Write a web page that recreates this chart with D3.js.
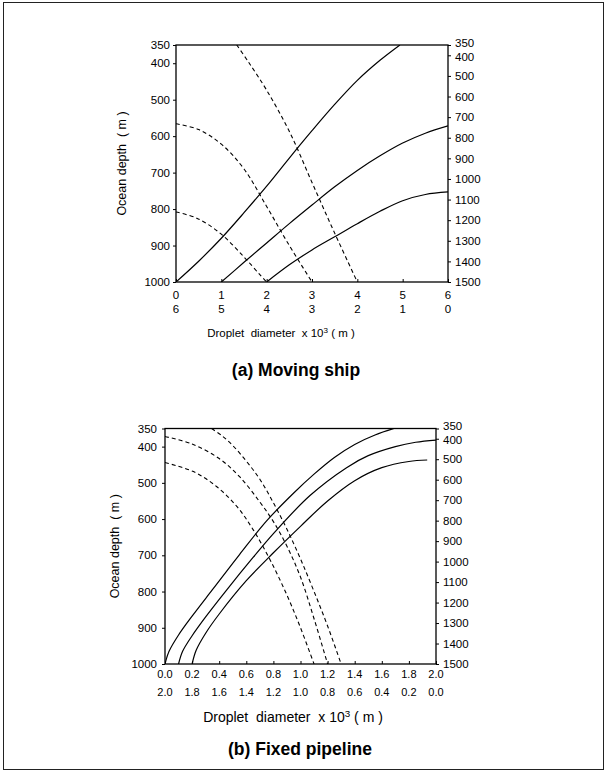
<!DOCTYPE html>
<html><head><meta charset="utf-8">
<script src="https://cdn.jsdelivr.net/npm/d3@7"></script>
<style>
html,body{margin:0;padding:0;background:#fff;}
svg{display:block;}
text{font-family:"Liberation Sans",Arial,sans-serif;fill:#000;}
</style></head>
<body>
<svg id="c" width="608" height="773"></svg>
<script>
// ---------- DATA ----------
// (a) Moving ship: x = droplet diameter (primary axis 0..6), y = ocean depth (left axis)
const shipXTicks = [0,1,2,3,4,5,6];
const shipXTicks2 = [6,5,4,3,2,1,0];
const depthTicksLeft = [350,400,500,600,700,800,900,1000];
const depthTicksRight = [350,400,500,600,700,800,900,1000,1100,1200,1300,1400,1500];

const shipSolid1 = [[0,1000],[0.5,943],[1.0,880],[1.5,810],[2.0,737],[2.5,660],[3.0,585],[3.5,513],[4.0,447],[4.5,392],[4.94,350]];
const shipSolid2 = [[1,1000],[1.5,946],[2,893],[2.5,840],[3,789],[3.5,739],[4,694],[4.5,654],[5,619],[5.5,592],[6,572]];
const shipSolid3 = [[2,1000],[2.5,953],[3,912],[3.5,876],[4,840],[4.5,806],[5,777],[5.5,760],[6,753]];
const shipDash1 = [[0,808],[0.46,825],[0.97,866],[1.49,930],[1.85,980],[2,1000]];
const shipDash2 = [[0,566],[0.5,582],[1.0,622],[1.5,690],[2.0,793],[2.5,900],[3,1000]];
const shipDash3 = [[1.34,350],[1.6,397],[2.0,474],[2.5,587],[3.0,727],[3.5,866],[4,1000]];

// (b) Fixed pipeline: x = droplet diameter (primary 0.0..2.0)
const pipeXTicks = [0,0.2,0.4,0.6,0.8,1.0,1.2,1.4,1.6,1.8,2.0];
const pipeXTicks2 = [2.0,1.8,1.6,1.4,1.2,1.0,0.8,0.6,0.4,0.2,0.0];
const pipeSolidA = [[0,1000],[0.03,965],[0.1,920],[0.2,868],[0.35,795],[0.55,698],[0.75,605],[0.95,528],[1.1,476],[1.25,430],[1.4,394],[1.55,368],[1.69,350]];
const pipeSolidB = [[0.1,1000],[0.13,965],[0.2,922],[0.3,870],[0.45,798],[0.65,706],[0.8,640],[1.07,535],[1.34,458],[1.5,425],[1.7,400],[1.85,388],[2.0,382]];
const pipeSolidC = [[0.2,1000],[0.23,962],[0.3,915],[0.4,862],[0.6,770],[0.8,693],[1.0,620],[1.2,550],[1.4,494],[1.6,458],[1.8,441],[1.935,437]];
const pipeDashA = [[0,372],[0.2,393],[0.4,433],[0.55,483],[0.7,553],[0.8,607],[0.9,675],[1.0,760],[1.1,875],[1.2,1000]];
const pipeDashB = [[0,444],[0.21,469],[0.38,510],[0.53,565],[0.65,629],[0.775,712],[0.9,810],[1.0,900],[1.1,1000]];
const pipeDashC = [[0.344,350],[0.42,370],[0.5,397],[0.6,440],[0.7,490],[0.8,555],[0.9,628],[1.0,710],[1.1,800],[1.2,895],[1.3,1000]];

// ---------- DRAW ----------
const svg = d3.select("#c");
svg.append("rect").attr("x",3.5).attr("y",2.5).attr("width",600).attr("height",767)
  .attr("fill","none").attr("stroke","#222").attr("stroke-width",1);

function panel(o){
  const x = d3.scaleLinear().domain(o.xDomain).range([o.left,o.right]);
  const x2 = d3.scaleLinear().domain([o.xDomain[1],o.xDomain[0]]).range([o.left,o.right]);
  const yL = d3.scaleLinear().domain([350,1000]).range([o.top,o.bottom]);
  const yR = d3.scaleLinear().domain([350,1500]).range([o.top,o.bottom]);
  const g = svg.append("g");
  const cid = "clip"+o.id;
  g.append("clipPath").attr("id",cid).append("rect")
    .attr("x",o.left).attr("y",o.top).attr("width",o.right-o.left).attr("height",o.bottom-o.top);

  // curves
  const line = d3.line().x(d=>x(d[0])).y(d=>yL(d[1])).curve(d3.curveCatmullRom.alpha(0.5));
  const cg = g.append("g").attr("clip-path",`url(#${cid})`);
  o.solids.forEach(s=>cg.append("path").attr("d",line(s)).attr("fill","none")
    .attr("stroke","#000").attr("stroke-width",1.2));
  o.dashes.forEach(s=>cg.append("path").attr("d",line(s)).attr("fill","none")
    .attr("stroke","#000").attr("stroke-width",1.1).attr("stroke-dasharray","4,3"));

  // frame
  g.append("rect").attr("x",o.left).attr("y",o.top).attr("width",o.right-o.left).attr("height",o.bottom-o.top)
    .attr("fill","none").attr("stroke","#000").attr("stroke-width",1.3);

  // left axis
  const ax = g.append("g").attr("transform",`translate(${o.left},0)`)
    .call(d3.axisLeft(yL).tickValues(depthTicksLeft).tickSize(3).tickPadding(o.lpad).tickFormat(d3.format("d")));
  ax.select(".domain").remove();
  ax.selectAll("text").style("font-size",o.yFont+"px").style("font-family","Liberation Sans, Arial").style("fill","#000");
  // right axis
  const ar = g.append("g").attr("transform",`translate(${o.right},0)`)
    .call(d3.axisRight(yR).tickValues(depthTicksRight).tickSize(3).tickPadding(o.rpad).tickFormat(d3.format("d")));
  ar.select(".domain").remove();
  ar.selectAll("text").style("font-size",o.yFont+"px").style("font-family","Liberation Sans, Arial").style("fill","#000")
    .attr("y",d=> d===350 ? -2.5 : (d===400 ? 1.5 : 0));
  // bottom axis (ticks inward)
  const ab = g.append("g").attr("transform",`translate(0,${o.bottom})`)
    .call(d3.axisBottom(x).tickValues(o.xTicks).tickSize(-3).tickFormat(""));
  ab.select(".domain").remove();
  ab.selectAll("line").attr("stroke","#000");
  // tick label rows
  g.append("g").selectAll("text").data(o.xTicks).join("text")
    .attr("x",d=>x(d)).attr("y",o.row1).attr("text-anchor","middle")
    .style("font-size",o.xFont+"px").text(o.fmt);
  g.append("g").selectAll("text").data(o.xTicks2).join("text")
    .attr("x",d=>x2(d)).attr("y",o.row2).attr("text-anchor","middle")
    .style("font-size",o.xFont+"px").text(o.fmt);

  // y title
  g.append("text").attr("transform",`translate(${o.yTitleX},${(o.top+o.bottom)/2}) rotate(-90)`)
    .attr("text-anchor","middle").style("font-size",o.yTitleFont+"px").attr("xml:space","preserve")
    .text("Ocean depth  ( m )");
  // x title
  const xt = g.append("text").attr("x",o.xTitleX).attr("y",o.xTitleY).attr("text-anchor","middle")
    .style("font-size",o.xTitleFont+"px").attr("xml:space","preserve");
  xt.append("tspan").text("Droplet  diameter  x 10");
  xt.append("tspan").attr("dy",-o.xTitleFont*0.35).style("font-size",(o.xTitleFont*0.7)+"px").text("3");
  xt.append("tspan").attr("dy",o.xTitleFont*0.35).text(" ( m )");
  // caption
  g.append("text").attr("x",o.capX).attr("y",o.capY).attr("text-anchor","middle")
    .style("font-size","17.5px").style("font-weight","bold").text(o.caption);
}

panel({id:"a", xDomain:[0,6], left:176, right:448, top:45, bottom:282,
  xTicks:shipXTicks, xTicks2:shipXTicks2, fmt:d3.format("d"),
  solids:[shipSolid1,shipSolid2,shipSolid3], dashes:[shipDash1,shipDash2,shipDash3],
  lpad:3, rpad:4, yFont:11.5, xFont:11.5, row1:299, row2:313,
  yTitleX:126, yTitleFont:12.5, xTitleX:281, xTitleY:337, xTitleFont:11.5,
  capX:296, capY:376, caption:"(a) Moving ship"});

panel({id:"b", xDomain:[0,2], left:165, right:436, top:428.5, bottom:664,
  xTicks:pipeXTicks, xTicks2:pipeXTicks2, fmt:d3.format(".1f"),
  solids:[pipeSolidA,pipeSolidB,pipeSolidC], dashes:[pipeDashA,pipeDashB,pipeDashC],
  lpad:5, rpad:4, yFont:11.5, xFont:11, row1:677.5, row2:696,
  yTitleX:119, yTitleFont:12.5, xTitleX:293, xTitleY:722, xTitleFont:14,
  capX:300, capY:755, caption:"(b) Fixed pipeline"});
</script>
</body></html>
